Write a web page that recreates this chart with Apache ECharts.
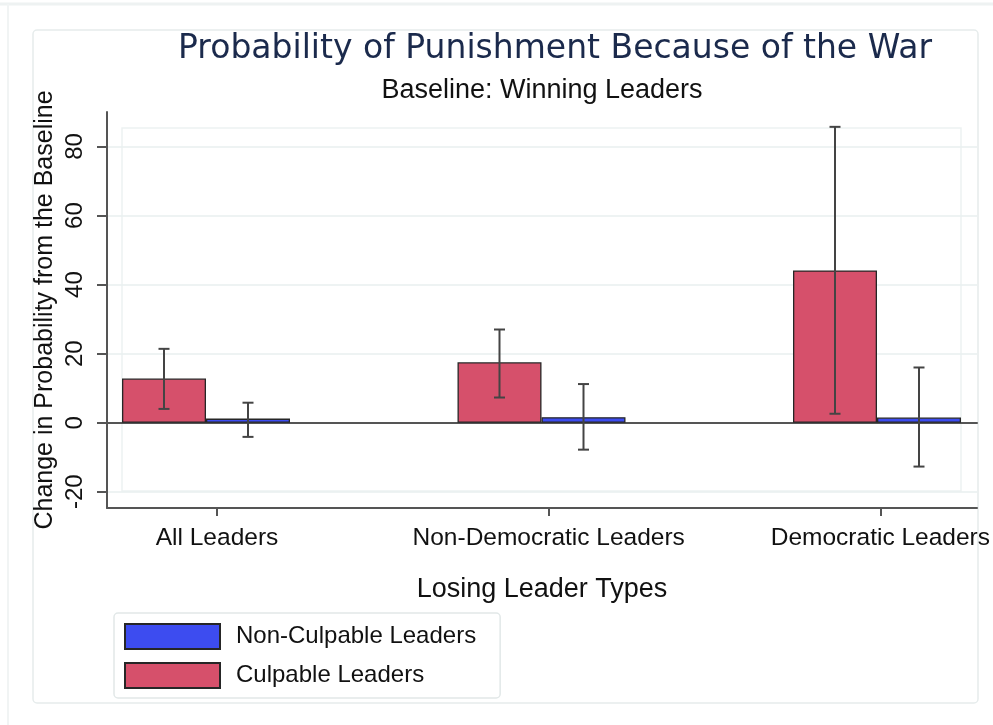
<!DOCTYPE html>
<html>
<head>
<meta charset="utf-8">
<title>Probability of Punishment Because of the War</title>
<script src="https://cdn.jsdelivr.net/npm/echarts@6/dist/echarts.min.js"></script>
<style>
  html, body { margin: 0; padding: 0; background: #ffffff; }
  #chart { width: 993px; height: 725px; }
</style>
</head>
<body>
<div id="chart"></div>
<script>
// Losing-leader groups on the horizontal axis
const categories = ['All Leaders', 'Non-Democratic Leaders', 'Democratic Leaders'];

// Change in probability of punishment (percentage points) with confidence bounds
const culpable = [12.8, 17.5, 44.1];
const culpableLow = [4.0, 7.3, 2.6];
const culpableHigh = [21.4, 27.0, 85.7];

const nonCulpable = [1.2, 1.6, 1.5];
const nonCulpableLow = [-4.1, -7.8, -12.7];
const nonCulpableHigh = [5.8, 11.2, 16.0];

// Value-axis ticks
const yTicks = [-20, 0, 20, 40, 60, 80];
const yMin = -24.7;
const yMax = 90;

const seriesNames = ['Culpable Leaders', 'Non-Culpable Leaders'];
const legendOrder = ['Non-Culpable Leaders', 'Culpable Leaders'];

const FONT = "'Liberation Sans', Arial, sans-serif";
const AXIS_COLOR = '#555555';
const FAINT = '#e6ecec';
const BAR_W = 84;

// rows for the confidence-interval whiskers: [category, low, high, side]
const ciRows = [];
categories.forEach(function (c, i) {
  ciRows.push([i, culpableLow[i], culpableHigh[i], -1]);
  ciRows.push([i, nonCulpableLow[i], nonCulpableHigh[i], 1]);
});

const chart = echarts.init(document.getElementById('chart'), null, { renderer: 'canvas' });

const gridBox = { top: 112, bottom: 217 };

const option = {
  backgroundColor: '#ffffff',
  animation: false,
  title: [
    {
      text: 'Probability of Punishment Because of the War',
      left: 550, top: 28, textAlign: 'center',
      textStyle: { fontFamily: "'DejaVu Sans', sans-serif", fontSize: 33, fontWeight: 'normal', color: '#1b2a4c' }
    },
    {
      text: 'Baseline: Winning Leaders',
      left: 537, top: 72, textAlign: 'center',
      textStyle: { fontFamily: FONT, fontSize: 27, fontWeight: 'normal', color: '#111111' }
    }
  ],
  legend: {
    data: legendOrder,
    orient: 'vertical',
    left: 114, top: 613,
    padding: [10, 24, 9, 10],
    itemWidth: 95, itemHeight: 25, itemGap: 12,
    icon: 'rect',
    borderColor: '#e2e8e8', borderWidth: 1.5, borderRadius: 4,
    textStyle: { fontFamily: FONT, fontSize: 24, color: '#111111', padding: [0, 0, 0, 11] },
    selectedMode: false
  },
  graphic: [
    { type: 'rect', z: -10, shape: { x: 33, y: 30, width: 945, height: 673, r: 4 },
      style: { fill: 'none', stroke: FAINT, lineWidth: 1.5 } },
    { type: 'rect', z: -10, shape: { x: 122, y: 128, width: 839, height: 363 },
      style: { fill: 'none', stroke: '#edf2f2', lineWidth: 1.5 } },
    { type: 'line', z: -10, shape: { x1: 0, y1: 4, x2: 993, y2: 4 },
      style: { stroke: '#eef2f2', lineWidth: 3 } },
    { type: 'line', z: -10, shape: { x1: 8, y1: 4, x2: 8, y2: 725 },
      style: { stroke: '#f1f4f4', lineWidth: 2 } }
  ],
  grid: [
    { left: 107, right: 16, top: gridBox.top, bottom: gridBox.bottom },   // frame: value axis, gridlines
    { left: 206, right: 116, top: gridBox.top, bottom: gridBox.bottom },  // bars
    { left: 217, right: 110, top: gridBox.top, bottom: gridBox.bottom }   // category labels
  ],
  xAxis: [
    {
      gridIndex: 0, type: 'value', min: 0, max: 1, position: 'bottom',
      axisLine: { show: true, onZero: false, lineStyle: { color: AXIS_COLOR, width: 2 } },
      axisTick: { show: false }, axisLabel: { show: false }, splitLine: { show: false },
      name: 'Losing Leader Types', nameLocation: 'middle', nameGap: 68,
      nameTextStyle: { fontFamily: FONT, fontSize: 27, color: '#111111' }
    },
    {
      gridIndex: 1, type: 'category', data: categories, boundaryGap: false, show: false
    },
    {
      gridIndex: 2, type: 'category', data: categories, boundaryGap: false, position: 'bottom',
      axisLine: { show: false, onZero: false },
      axisTick: { show: true, length: 8, lineStyle: { color: AXIS_COLOR, width: 2 } },
      axisLabel: { show: true, margin: 18, fontFamily: FONT, fontSize: 24.5, color: '#111111', interval: 0 },
      splitLine: { show: false }
    },
    {
      // horizontal reference line at zero
      gridIndex: 0, type: 'value', min: 0, max: 1, position: 'bottom',
      axisLine: { show: true, onZero: true, lineStyle: { color: AXIS_COLOR, width: 2 } },
      axisTick: { show: false }, axisLabel: { show: false }, splitLine: { show: false }
    }
  ],
  yAxis: [
    {
      gridIndex: 0, type: 'value', min: yMin, max: yMax,
      axisLine: { show: true, lineStyle: { color: AXIS_COLOR, width: 2 } },
      axisTick: { show: true, length: 10, customValues: yTicks, lineStyle: { color: AXIS_COLOR, width: 2 } },
      axisLabel: { show: true, customValues: yTicks, rotate: 90, margin: 20,
                   fontFamily: FONT, fontSize: 24, color: '#111111' },
      splitLine: { show: true, lineStyle: { color: '#e9efef', width: 1.5 } },
      name: 'Change in Probability from the Baseline', nameLocation: 'middle', nameGap: 49,
      nameMoveOverlap: false,
      nameTextStyle: { fontFamily: FONT, fontSize: 25, color: '#111111' }
    },
    { gridIndex: 1, type: 'value', min: yMin, max: yMax, show: false, splitLine: { show: false } },
    { gridIndex: 2, type: 'value', min: yMin, max: yMax, show: false, splitLine: { show: false } }
  ],
  series: [
    {
      name: seriesNames[0], type: 'bar', xAxisIndex: 1, yAxisIndex: 1,
      data: culpable, barWidth: BAR_W, barGap: '0%', clip: false, z: 3,
      itemStyle: { color: '#d6506b', borderColor: '#262626', borderWidth: 1.3 }
    },
    {
      name: seriesNames[1], type: 'bar', xAxisIndex: 1, yAxisIndex: 1,
      data: nonCulpable, barWidth: BAR_W, barGap: '0%', clip: false, z: 3,
      itemStyle: { color: '#3d4cf0', borderColor: '#262626', borderWidth: 1.3 }
    },
    {
      name: 'ci', type: 'custom', xAxisIndex: 1, yAxisIndex: 1, z: 5, silent: true,
      data: ciRows,
      encode: { x: 0, y: [1, 2] },
      renderItem: function (params, api) {
        const side = api.value(3);
        const lo = api.coord([api.value(0), api.value(1)]);
        const hi = api.coord([api.value(0), api.value(2)]);
        const x = lo[0] + side * BAR_W / 2;
        const cap = 5.5;
        const style = { stroke: '#444444', lineWidth: 2 };
        return {
          type: 'group',
          children: [
            { type: 'line', shape: { x1: x, y1: lo[1], x2: x, y2: hi[1] }, style: style },
            { type: 'line', shape: { x1: x - cap, y1: lo[1], x2: x + cap, y2: lo[1] }, style: style },
            { type: 'line', shape: { x1: x - cap, y1: hi[1], x2: x + cap, y2: hi[1] }, style: style }
          ]
        };
      }
    }
  ]
};

chart.setOption(option);
</script>
</body>
</html>
